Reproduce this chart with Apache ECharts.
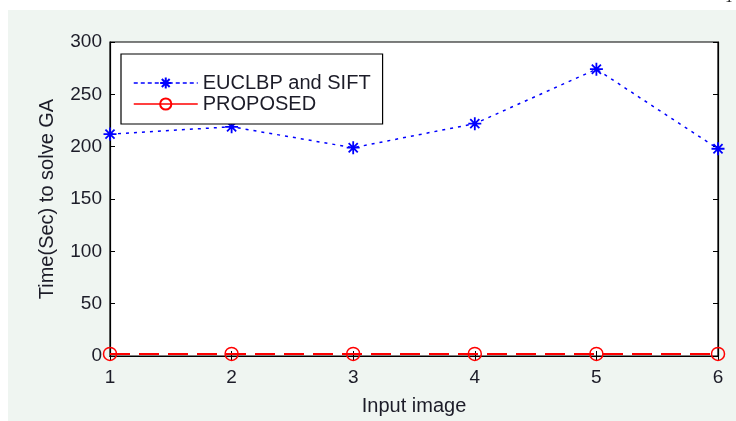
<!DOCTYPE html>
<html>
<head>
<meta charset="utf-8">
<script src="https://cdn.jsdelivr.net/npm/echarts@6/dist/echarts.min.js"></script>
<style>html,body{margin:0;padding:0;background:#fff;}#c{width:736px;height:421px;}</style>
</head>
<body>
<div id="c"></div>
<script>
var categories = [1, 2, 3, 4, 5, 6];
var euclbpValues = [212, 219, 199, 222, 274, 198];
var proposedValues = [2, 2, 2, 2, 2, 2];
var yTicks = [0, 50, 100, 150, 200, 250, 300];

var chart = echarts.init(document.getElementById('c'), null, {renderer: 'canvas'});
var txt = '#1c1c28';
var font = 'Liberation Sans';
var star = 'path://M0,-10 L0,10 M-10,0 L10,0 M-7,-7 L7,7 M-7,7 L7,-7';

function pairs(vals){ return categories.map(function(c,i){ return [c, vals[i]]; }); }

var tickCommon = {show: true, inside: true, length: 5, lineStyle: {color: '#000', width: 1}};

chart.setOption({
  backgroundColor: '#ffffff',
  animation: false,
  graphic: [
    {type: 'rect', left: 8, top: 10, shape: {width: 728, height: 411}, style: {fill: '#eff5f1'}, z: -10},
    {type: 'text', left: 726, top: -9, style: {text: '1', font: 'italic 14px Liberation Serif', fill: '#000'}}
  ],
  grid: {left: 110, right: 18, top: 42, bottom: 64, show: true, backgroundColor: '#ffffff', borderColor: '#000', borderWidth: 1.2},
  legend: {
    orient: 'vertical', left: 121, top: 54,
    backgroundColor: '#fff', borderColor: '#000', borderWidth: 1.2,
    padding: [19, 12, 10, 12],
    itemWidth: 64, itemHeight: 14, itemGap: 1,
    textStyle: {fontFamily: font, fontSize: 20, color: txt, lineHeight: 20},
    data: [
      {name: 'EUCLBP and SIFT', lineStyle: {type: [4, 3], width: 1.5}},
      {name: 'PROPOSED', lineStyle: {type: 'solid', width: 1.5}}
    ]
  },
  xAxis: [{
    type: 'value', min: 1, max: 6, interval: 1,
    name: 'Input image', nameLocation: 'middle', nameGap: 40,
    nameTextStyle: {fontFamily: font, fontSize: 20, color: txt},
    axisLine: {show: true, lineStyle: {color: '#000', width: 1.2}},
    axisTick: tickCommon,
    axisLabel: {fontFamily: font, fontSize: 19, color: txt, margin: 12,
      formatter: function(v){ return categories.indexOf(v) >= 0 ? String(v) : ''; }},
    splitLine: {show: false}
  }, {
    type: 'value', min: 1, max: 6, interval: 1, position: 'top',
    axisLine: {show: true, lineStyle: {color: '#000', width: 1.2}},
    axisTick: tickCommon, axisLabel: {show: false}, splitLine: {show: false}
  }],
  yAxis: [{
    type: 'value', min: 0, max: 300, interval: 50,
    name: 'Time(Sec) to solve GA', nameLocation: 'middle', nameGap: 53,
    nameTextStyle: {fontFamily: font, fontSize: 20, color: txt},
    axisLine: {show: true, lineStyle: {color: '#000', width: 1.2}},
    axisTick: tickCommon,
    axisLabel: {fontFamily: font, fontSize: 19, color: txt, margin: 8,
      formatter: function(v){ return yTicks.indexOf(v) >= 0 ? String(v) : ''; }},
    splitLine: {show: false}
  }, {
    type: 'value', min: 0, max: 300, interval: 50, position: 'right',
    axisLine: {show: true, lineStyle: {color: '#000', width: 1.2}},
    axisTick: tickCommon, axisLabel: {show: false}, splitLine: {show: false}
  }],
  series: [{
    name: 'EUCLBP and SIFT', type: 'line', data: pairs(euclbpValues),
    symbol: star, symbolSize: 13,
    lineStyle: {color: '#0000ff', width: 1.5, type: [3, 5]},
    itemStyle: {color: '#0000ff', borderColor: '#0000ff', borderWidth: 1.8},
    clip: false, z: 3
  }, {
    name: 'PROPOSED', type: 'line', data: pairs(proposedValues),
    symbol: 'circle', symbolSize: 13,
    lineStyle: {color: '#ff0000', width: 2, type: [20, 9]},
    itemStyle: {color: 'rgba(255,255,255,0)', borderColor: '#ff0000', borderWidth: 1.5},
    clip: false, z: 3
  }]
});
</script>
</body>
</html>
